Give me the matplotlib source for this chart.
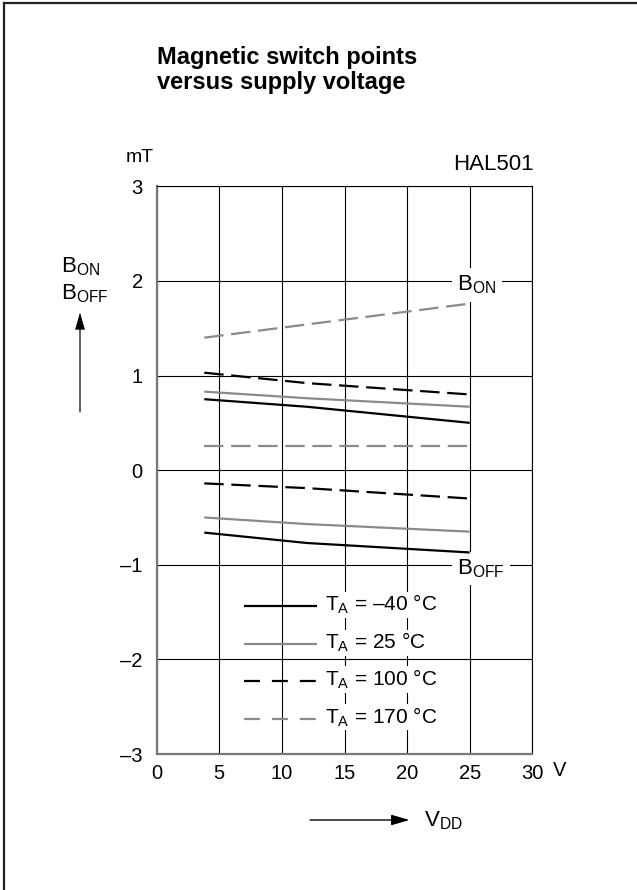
import matplotlib
matplotlib.use("Agg")
import matplotlib.pyplot as plt
from matplotlib.lines import Line2D
from matplotlib.patches import FancyArrowPatch

plt.rcParams["font.family"] = ["Liberation Sans", "DejaVu Sans"]
plt.rcParams["mathtext.fontset"] = "custom"
plt.rcParams["mathtext.rm"] = "Liberation Sans"
plt.rcParams["mathtext.it"] = "Liberation Sans:italic"
plt.rcParams["lines.scale_dashes"] = False

# Supply voltage sample points (V)
vdd = [3.8, 12, 25]

# Switch-on points B_ON (mT) per ambient temperature
bon_m40 = [0.75, 0.67, 0.50]
bon_25 = [0.83, 0.76, 0.67]
bon_100 = [1.03, 0.92, 0.80]
bon_170 = [1.40, 1.54, 1.76]

# Switch-off points B_OFF (mT) per ambient temperature
boff_m40 = [-0.66, -0.77, -0.87]
boff_25 = [-0.50, -0.57, -0.65]
boff_100 = [-0.14, -0.19, -0.30]
boff_170 = [0.26, 0.26, 0.26]

temp_labels = [r"$\mathregular{T_A}$ = –40 °C", r"$\mathregular{T_A}$ = 25 °C",
               r"$\mathregular{T_A}$ = 100 °C", r"$\mathregular{T_A}$ = 170 °C"]

xticks = [0, 5, 10, 15, 20, 25, 30]
xticklabels = ["0", "5", "10", "15", "20", "25", "30"]
yticks = [-3, -2, -1, 0, 1, 2, 3]
yticklabels = ["–3", "–2", "–1", "0", "1", "2", "3"]

GRAY = "#8a8a8a"
DASH = (0, (14, 5.5))
KEY_DASH = (0, (11.5, 8.6))
colors = ["black", GRAY, "black", GRAY]
curve_ls = ["-", "-", DASH, DASH]
key_ls = ["-", "-", KEY_DASH, KEY_DASH]
LW = 1.6
FS = 15

W, H = 637, 890
fig = plt.figure(figsize=(W / 100, H / 100), dpi=100)


def fx(px):
    return px / W


def fy(py):
    return 1 - py / H


ax = fig.add_axes([fx(156.7), fy(754), (532.3 - 156.7) / W, (754 - 186.3) / H])
ax.set_xlim(0, 30)
ax.set_ylim(-3, 3)
ax.set_xticks(xticks)
ax.set_xticklabels(xticklabels)
ax.set_yticks(yticks)
ax.set_yticklabels(yticklabels)
ax.tick_params(length=0, labelsize=14.5, pad=7)
ax.tick_params(axis="y", pad=10)
ax.grid(True, color="black", linewidth=0.8)
ax.set_axisbelow(True)
for side in ("top", "right"):
    ax.spines[side].set_color("black")
    ax.spines[side].set_linewidth(0.8)
for side in ("left", "bottom"):
    ax.spines[side].set_color("#777777")
    ax.spines[side].set_linewidth(1.6)

on_series = [bon_m40, bon_25, bon_100, bon_170]
off_series = [boff_m40, boff_25, boff_100, boff_170]
for c, ls, on, off in zip(colors, curve_ls, on_series, off_series):
    for ys in (on, off):
        ax.plot(vdd, ys, color=c, linestyle=ls, linewidth=LW, zorder=4,
                solid_capstyle="butt", dash_capstyle="butt")

# Curve-group labels sitting on the grid lines
white = dict(facecolor="white", edgecolor="none", pad=4)
ax.text(24.0, 1.90, r"$\mathregular{B_{ON}}$", fontsize=FS + 1, ha="left",
        va="baseline", bbox=white, zorder=3)
ax.text(24.0, -1.10, r"$\mathregular{B_{OFF}}$", fontsize=FS + 1, ha="left",
        va="baseline", bbox=white, zorder=3)

# Key for the temperature curves
key_x0, key_x1, key_tx = 7.0, 12.8, 13.45
key_y = [-1.44, -1.84, -2.23, -2.63]
for c, ls, lab, ky in zip(colors, key_ls, temp_labels, key_y):
    ax.add_line(Line2D([key_x0, key_x1], [ky, ky], color=c, linestyle=ls, linewidth=LW,
                       dash_capstyle="butt", solid_capstyle="butt", zorder=4))
    ax.text(key_tx, ky - 0.05, lab, fontsize=FS, ha="left", va="baseline",
            bbox=dict(facecolor="white", edgecolor="none", pad=1), zorder=3)

# Title and annotations placed in figure pixels
fig.text(fx(157), fy(64), "Magnetic switch points", fontsize=17,
         fontweight="bold", ha="left", va="baseline")
fig.text(fx(157), fy(89), "versus supply voltage", fontsize=17,
         fontweight="bold", ha="left", va="baseline")
fig.text(fx(140), fy(161.7), "mT", fontsize=14, ha="center", va="baseline")
fig.text(fx(534), fy(170), "HAL501", fontsize=16, ha="right", va="baseline")
fig.text(fx(553), fy(775.7), "V", fontsize=14.5, ha="left", va="baseline")

fig.text(fx(61.5), fy(272), r"$\mathregular{B_{ON}}$", fontsize=FS + 1, ha="left", va="baseline")
fig.text(fx(61.5), fy(299), r"$\mathregular{B_{OFF}}$", fontsize=FS + 1, ha="left", va="baseline")

# Axis direction arrows
head = "-|>,head_length=11,head_width=3.2"
fig.add_artist(FancyArrowPatch(
    (fx(80), fy(411.7)), (fx(80), fy(320)), transform=fig.transFigure,
    arrowstyle="-", color="#555555", linewidth=1.3, shrinkA=0, shrinkB=0))
fig.add_artist(FancyArrowPatch(
    (fx(80), fy(330)), (fx(80), fy(312.7)), transform=fig.transFigure,
    arrowstyle=head, color="black", linewidth=0.5, shrinkA=0, shrinkB=0))
fig.add_artist(FancyArrowPatch(
    (fx(310), fy(820)), (fx(409.5), fy(820)), transform=fig.transFigure,
    arrowstyle=head, color="black", linewidth=1.0, shrinkA=0, shrinkB=0))
fig.text(fx(424), fy(826.7), r"$\mathregular{V_{DD}}$", fontsize=FS + 1, ha="left", va="baseline")

# Page frame: top and left edges
fig.add_artist(Line2D([fx(4), fx(637)], [fy(3), fy(3)], transform=fig.transFigure,
                      color="#222222", linewidth=1.6))
fig.add_artist(Line2D([fx(4), fx(4)], [fy(3), fy(890)], transform=fig.transFigure,
                      color="#222222", linewidth=1.6))

fig.savefig("out.png", dpi=100)
